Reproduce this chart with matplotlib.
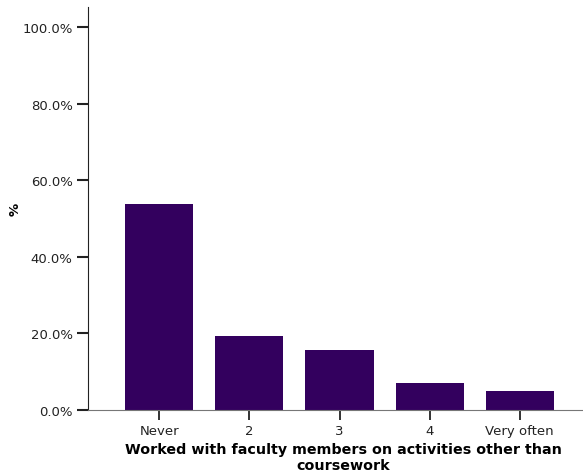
import matplotlib
matplotlib.use("Agg")
import matplotlib.pyplot as plt
from matplotlib.ticker import FuncFormatter

categories = ["Never", "2", "3", "4", "Very often"]
values = [53.8, 19.4, 15.7, 7.1, 5.0]

bar_color = "#33005e"

plt.rcParams["font.family"] = ["DejaVu Sans"]

fig = plt.figure(figsize=(5.83, 4.77), dpi=100)
ax = fig.add_axes([88 / 583, 66 / 477, 494 / 583, 403 / 477])

x = list(range(len(categories)))
ax.bar(x, values, width=0.755, color=bar_color)

ax.set_xlim(-0.79, 4.69)
ax.set_ylim(0, 105.2)
ax.set_yticks([0, 20, 40, 60, 80, 100])
ax.yaxis.set_major_formatter(FuncFormatter(lambda v, p: "%.1f%%" % v))
ax.set_xticks(x)
ax.set_xticklabels(categories)

for s in ["top", "right"]:
    ax.spines[s].set_visible(False)
ax.spines["left"].set_color("#222222")
ax.spines["bottom"].set_color("#777777")
ax.tick_params(axis="y", direction="out", length=8, width=1.5, labelsize=9.5,
               colors="#222222", pad=3)
ax.tick_params(axis="x", direction="out", length=7, width=1.3, labelsize=9.5,
               colors="#222222", pad=3)

fig.text(343 / 583, 1 - 458 / 477, "Worked with faculty members on activities other than\ncoursework",
         ha="center", va="center", fontsize=10.3, fontweight="bold", linespacing=1.1)
fig.text(15 / 583, 1 - 209 / 477, "%", rotation=90, ha="center", va="center",
         fontsize=9.5, fontweight="bold")

fig.savefig("out.png", dpi=100)
